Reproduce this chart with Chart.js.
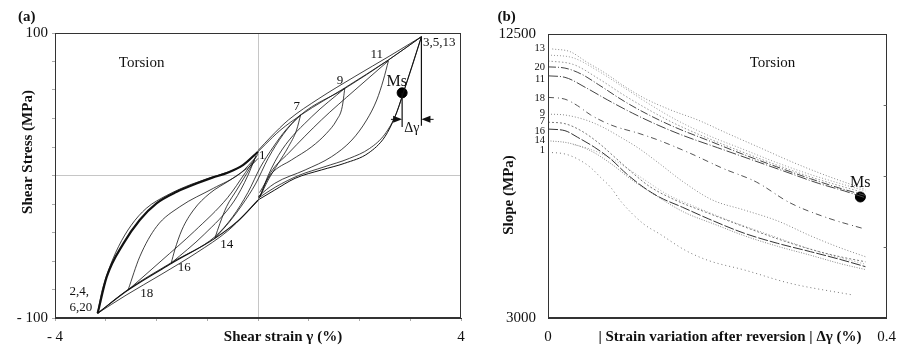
<!DOCTYPE html>
<html><head><meta charset="utf-8">
<script src="https://cdn.jsdelivr.net/npm/chart.js@4.4.1/dist/chart.umd.min.js"></script>
<style>
html,body{margin:0;padding:0;background:#fff;width:903px;height:347px;overflow:hidden}
#ca{position:absolute;left:0;top:0}
#cb{position:absolute;left:470px;top:0}
</style></head><body>
<canvas id="ca" width="480" height="347"></canvas>
<canvas id="cb" width="433" height="347"></canvas>
<script>
// ---------------- Panel (a) data : [shear strain %, shear stress MPa] ----------------
const aXTickValues = [-4, 4];
const aXTickTexts = ['- 4', '4'];
const aYTickValues = [100, -100];
const aYTickTexts = ['100', '- 100'];

const outerDescUpper  = [[3.22,97.4],[2.57,81.1],[1.71,61.5],[0.86,42.8],[0.43,31.5],[0.15,22],[0,16.7]];
const outerDescUpper2 = [[3.22,97.4],[2.6,84],[1.91,69.5],[1.2,54],[0.6,39],[0.25,27],[0,17.5]];
const outerDescLower  = [[0,16.7],[-0.29,7.5],[-0.6,2],[-0.9,-1.5],[-1.2,-5.5],[-1.6,-11.4],[-2.0,-19.5],[-2.33,-31.2],[-2.65,-47.6],[-2.98,-71],[-3.16,-96.7]];
const outerAscLower   = [[-3.16,-96.7],[-2.56,-80.4],[-1.70,-61.6],[-0.85,-44.1],[-0.4,-32],[0,-17.2]];
const outerAscLower2  = [[-3.16,-96.7],[-2.6,-84],[-1.91,-69.5],[-1.2,-54],[-0.6,-39],[-0.25,-27],[0,-17.5]];
const outerAscUpper   = [[0,-17.2],[0.33,-10.2],[0.73,-2.0],[1.25,3.9],[1.71,8.6],[2.17,15.6],[2.50,27.2],[2.70,41.3],[2.86,57.7],[3.03,76.4],[3.22,97.4]];
const rev6to7   = [[-3.16,-96.7],[-2.56,-80],[-1.7,-61],[-0.85,-43],[-0.5,-29],[-0.2,-12],[0.05,6],[0.3,20],[0.55,32],[0.84,42.5]];
const rev7to8   = [[0.84,42.5],[0.76,31.9],[0.60,20.2],[0.40,8.6],[0.20,-3.2],[0.04,-14.9]];
const rev8to9   = [[0.04,-14.9],[0.2,0],[0.47,17.9],[1.06,41.3],[1.71,61.2]];
const rev9to10  = [[1.71,61.2],[1.66,48.3],[1.55,38.9],[1.35,29.6],[1.06,20.2],[0.66,10.9],[0.27,1.5],[0.03,-12]];
const rev10to11 = [[0.02,-16],[0.25,2],[0.60,15.6],[1.25,39],[1.91,60],[2.57,80.5]];
const rev11to12 = [[2.57,80.5],[2.47,67],[2.34,53],[2.14,38.9],[1.85,24.9],[1.45,13.2],[0.93,3.9],[0.33,-5.5],[0,-14.9]];
const rev12to13 = [[0,-16],[0.35,-8],[0.8,0],[1.3,6],[1.8,12],[2.2,19],[2.5,29],[2.72,43],[2.9,62],[3.05,78],[3.22,97.4]];
const rev13to14 = [[3.22,97.4],[2.57,81],[1.71,61],[0.84,42.5],[0.5,29],[0.2,12],[-0.05,-6],[-0.3,-20],[-0.55,-32],[-0.85,-44]];
const rev14to15 = [[-0.85,-44],[-0.75,-33.6],[-0.62,-21.9],[-0.42,-10.2],[-0.22,1.5],[-0.06,10.9]];
const rev15to16 = [[-0.04,14],[-0.2,0],[-0.47,-17.9],[-1.06,-41.3],[-1.71,-61.5]];
const rev16to17 = [[-1.71,-61.5],[-1.64,-52.3],[-1.50,-38.2],[-1.27,-24.2],[-0.95,-12.5],[-0.55,-3.2],[-0.09,8.6],[0,12]];
const rev17to18 = [[0,15],[-0.25,2],[-0.6,-15.6],[-1.25,-39],[-1.91,-60],[-2.56,-80.4]];
const rev18to19 = [[-2.56,-80.4],[-2.33,-57],[-2.0,-35.9],[-1.54,-21.9],[-0.88,-9.0],[-0.35,1.5],[-0.03,13.2]];
const rev19to20 = [[0,16],[-0.35,6],[-0.8,0],[-1.3,-6],[-1.8,-14],[-2.2,-23],[-2.5,-35],[-2.75,-50],[-2.95,-67],[-3.08,-82],[-3.16,-96.7]];
const msPointA = [[2.84,58]];
const msDeltaLine = [[2.84,58],[2.84,34]];
const peakDeltaLine = [[3.22,97.4],[3.22,35]];
const aCycleLabels = ['1','7','9','11','3,5,13','14','16','18','2,4,','6,20'];

// ---------------- Panel (b) data : [|Δγ| %, slope MPa] ----------------
const bXTickValues = [0, 0.4];
const bXTickTexts = ['0', '0.4'];
const bYTickValues = [12500, 3000];
const bYTickTexts = ['12500', '3000'];
const slope13 = [[0.005,12000],[0.026,11910],[0.045,11575],[0.068,11185],[0.091,10737],[0.114,10350],[0.145,9958],[0.177,9623],[0.21,9200],[0.25,8700],[0.29,8200],[0.33,7750],[0.375,7300]];
const slope3  = [[0,11800],[0.03,11700],[0.06,11250],[0.09,10700],[0.12,10150],[0.15,9650],[0.19,9100],[0.23,8650],[0.27,8200],[0.31,7800],[0.345,7500],[0.375,7250]];
const slope5  = [[0,11600],[0.03,11480],[0.06,11000],[0.09,10450],[0.12,9950],[0.15,9500],[0.19,9000],[0.23,8550],[0.27,8120],[0.31,7720],[0.345,7420],[0.375,7180]];
const slope20 = [[0,11400],[0.02,11360],[0.04,11150],[0.06,10800],[0.09,10250],[0.12,9780],[0.15,9380],[0.19,8930],[0.23,8480],[0.27,8060],[0.31,7660],[0.345,7340],[0.375,7100]];
const slope11 = [[0,11100],[0.02,11050],[0.045,10700],[0.07,10300],[0.1,9850],[0.13,9450],[0.16,9100],[0.2,8700],[0.24,8300],[0.28,7900],[0.32,7500],[0.35,7250],[0.375,7020]];
const slope18 = [[0,10380],[0.02,10320],[0.035,10100],[0.05,9800],[0.075,9450],[0.107,9178],[0.13,8954],[0.168,8509],[0.207,8000],[0.246,7550],[0.286,6850],[0.33,6350],[0.375,5970]];
const slope9  = [[0,9820],[0.02,9790],[0.045,9620],[0.065,9380],[0.085,9060],[0.107,8680],[0.13,8200],[0.16,7550],[0.194,6950],[0.232,6610],[0.271,6250],[0.31,5750],[0.345,5350],[0.375,5050]];
const slope7  = [[0,9550],[0.02,9500],[0.04,9250],[0.06,8850],[0.08,8350],[0.1,7850],[0.12,7400],[0.15,6950],[0.19,6500],[0.232,6050],[0.271,5650],[0.31,5300],[0.345,5050],[0.375,4880]];
const slope16 = [[0,9320],[0.02,9266],[0.035,9044],[0.055,8710],[0.074,8319],[0.093,7817],[0.113,7372],[0.132,7038],[0.159,6703],[0.19,6312],[0.232,5833],[0.271,5499],[0.31,5219],[0.345,4960],[0.375,4717]];
const slope14 = [[0,8930],[0.025,8850],[0.05,8600],[0.075,8150],[0.1,7600],[0.13,7050],[0.16,6550],[0.2,6100],[0.232,5750],[0.271,5400],[0.31,5100],[0.345,4820],[0.375,4620]];
const slopeX  = [[0.03,8800],[0.05,8650],[0.08,8250],[0.11,7700],[0.14,7150],[0.18,6650],[0.22,6200],[0.26,5800],[0.3,5400],[0.34,5050],[0.375,4800]];
const slope1  = [[0,8543],[0.02,8486],[0.035,8319],[0.05,8041],[0.062,7706],[0.074,7372],[0.087,6870],[0.113,6145],[0.132,5810],[0.163,5252],[0.19,4918],[0.232,4606],[0.286,4160],[0.36,3770]];
const msPointB = [[0.369,7048]];
const bStartLabels = ['13','20','11','18','9','7','16','14','1'];
const bStartLabelValues = [12022,11373,10995,10349,9846,9568,9233,8954,8597];

// ---------------- helpers ----------------
const FONT = "'Liberation Serif','DejaVu Serif',serif";
Chart.defaults.font.family = FONT;
Chart.defaults.color = '#111';
const toXY = arr => arr.map(([x,y]) => ({x, y}));
function lineDs(arr, opts) {
  return Object.assign({data: toXY(arr), showLine: true, pointRadius: 0, borderColor: '#111',
    borderWidth: 0.8, cubicInterpolationMode: 'monotone', fill: false}, opts || {});
}
function pickLabel(vals, texts) {
  return v => { for (let i = 0; i < vals.length; i++) if (Math.abs(v - vals[i]) < 1e-9) return texts[i]; return ''; };
}
function txt(ctx, s, x, y, font, align) {
  ctx.font = font; ctx.textAlign = align || 'center'; ctx.textBaseline = 'middle'; ctx.fillStyle = '#111';
  ctx.fillText(s, x, y);
}
function vtxt(ctx, s, x, y, font) {
  ctx.save(); ctx.translate(x, y); ctx.rotate(-Math.PI / 2); txt(ctx, s, 0, 0, font); ctx.restore();
}
function frame(ctx, a) {
  ctx.save(); ctx.strokeStyle = '#333'; ctx.lineWidth = 1;
  ctx.strokeRect(Math.round(a.left) + 0.5, Math.round(a.top) + 0.5, Math.round(a.right - a.left) - 1, Math.round(a.bottom - a.top) - 1);
  ctx.restore();
}
function arrow(ctx, x1, y, x2) {
  const d = Math.sign(x2 - x1);
  ctx.beginPath(); ctx.moveTo(x1, y); ctx.lineTo(x2 - d * 6, y); ctx.stroke();
  ctx.beginPath(); ctx.moveTo(x2, y); ctx.lineTo(x2 - d * 9, y - 3.5); ctx.lineTo(x2 - d * 9, y + 3.5); ctx.closePath(); ctx.fill();
}
const common = {
  responsive: false, animation: false, devicePixelRatio: 1,
  plugins: {legend: {display: false}, tooltip: {enabled: false}}
};
const tickFont = {family: FONT, size: 15};

// ---------------- Panel (a) ----------------
const annotA = {
  id: 'annotA',
  afterDatasetsDraw(chart) {
    const {ctx, chartArea: a, scales: {x, y}} = chart;
    frame(ctx, a);
    ctx.save();
    const P = (dx, dy) => [x.getPixelForValue(dx), y.getPixelForValue(dy)];
    const labelPos = [[0.085,13.9],[0.763,48.1],[1.616,66.3],[2.339,84.6],[3.25,93.0],[-0.617,-48.8],[-1.452,-64.7],[-2.193,-82.7],[-3.521,-81.5],[-3.488,-92.5]];
    aCycleLabels.forEach((s, i) => {
      const [px, py] = P(labelPos[i][0], labelPos[i][1]);
      txt(ctx, s, px, py, '13px ' + FONT, s === '3,5,13' ? 'left' : 'center');
    });
    let [px, py] = P(-2.292, 78.7); txt(ctx, 'Torsion', px, py, '15px ' + FONT);
    [px, py] = P(2.733, 65.8); txt(ctx, 'Ms', px, py, '16px ' + FONT);
    [px, py] = P(3.029, 33.3); txt(ctx, 'Δγ', px, py, '14px ' + FONT);
    ctx.strokeStyle = '#111'; ctx.fillStyle = '#111'; ctx.lineWidth = 1;
    const ay = y.getPixelForValue(39.4);
    arrow(ctx, x.getPixelForValue(2.62), ay, x.getPixelForValue(2.84));
    arrow(ctx, x.getPixelForValue(3.46), ay, x.getPixelForValue(3.22));
    txt(ctx, '(a)', 26.7, 16.7, 'bold 15px ' + FONT);
    txt(ctx, 'Shear strain γ (%)', 283, 337, 'bold 15px ' + FONT);
    vtxt(ctx, 'Shear Stress (MPa)', 28, 152, 'bold 15px ' + FONT);
    ctx.restore();
  }
};
new Chart(document.getElementById('ca'), {
  type: 'scatter',
  data: {datasets: [
    lineDs(outerDescUpper), lineDs(outerDescUpper2),
    lineDs(outerDescLower, {borderWidth: 2.2}),
    lineDs(outerAscLower, {borderWidth: 1.1}), lineDs(outerAscLower2),
    lineDs(outerAscUpper, {borderWidth: 1.0}),
    lineDs(rev6to7), lineDs(rev7to8), lineDs(rev8to9), lineDs(rev9to10), lineDs(rev10to11),
    lineDs(rev11to12), lineDs(rev12to13), lineDs(rev13to14), lineDs(rev14to15), lineDs(rev15to16),
    lineDs(rev16to17), lineDs(rev17to18), lineDs(rev18to19), lineDs(rev19to20),
    lineDs(msDeltaLine, {borderWidth: 1.2, cubicInterpolationMode: 'default', tension: 0}),
    lineDs(peakDeltaLine, {borderWidth: 1.2, cubicInterpolationMode: 'default', tension: 0}),
    {data: toXY(msPointA), showLine: false, pointRadius: 5, pointBackgroundColor: '#000', pointBorderColor: '#000'}
  ]},
  options: Object.assign({}, common, {
    layout: {padding: {left: 0, top: 33, right: 19, bottom: 0}},
    scales: {
      x: {type: 'linear', min: -4, max: 4, afterFit: s => { s.height = 29; },
        ticks: {stepSize: 1, autoSkip: false, maxRotation: 0, padding: 7, font: tickFont, color: '#111', callback: pickLabel(aXTickValues, aXTickTexts)},
        grid: {color: c => (c.tick && c.tick.value === 0) ? '#c6c6c6' : 'rgba(0,0,0,0)', tickLength: 3, tickColor: '#aaa'},
        border: {display: true, color: '#333'}},
      y: {type: 'linear', min: -100, max: 100, afterFit: s => { s.width = 55; },
        ticks: {stepSize: 20, autoSkip: false, padding: 4, font: tickFont, color: '#111', callback: pickLabel(aYTickValues, aYTickTexts)},
        grid: {color: c => (c.tick && c.tick.value === 0) ? '#c6c6c6' : 'rgba(0,0,0,0)', tickLength: 3, tickColor: '#aaa'},
        border: {display: true, color: '#333'}}
    }
  }),
  plugins: [annotA]
});

// ---------------- Panel (b) ----------------
const annotB = {
  id: 'annotB',
  afterDatasetsDraw(chart) {
    const {ctx, chartArea: a, scales: {x, y}} = chart;
    frame(ctx, a);
    ctx.save();
    ctx.strokeStyle = '#666'; ctx.lineWidth = 1;
    y.ticks.forEach(t => {
      if (t.value > 3000 && t.value < 12500) {
        const py = Math.round(y.getPixelForValue(t.value)) + 0.5;
        ctx.beginPath(); ctx.moveTo(a.right - 3, py); ctx.lineTo(a.right, py); ctx.stroke();
      }
    });
    bStartLabels.forEach((s, i) => txt(ctx, s, a.left - 3, y.getPixelForValue(bStartLabelValues[i]), '10.5px ' + FONT, 'right'));
    txt(ctx, 'Torsion', x.getPixelForValue(0.2652), y.getPixelForValue(11520), '15px ' + FONT);
    txt(ctx, 'Ms', x.getPixelForValue(0.3687), y.getPixelForValue(7526), '16px ' + FONT);
    txt(ctx, '(b)', 36.7, 16.7, 'bold 15px ' + FONT);
    txt(ctx, '| Strain variation after reversion | Δγ (%)', 260, 337, 'bold 15px ' + FONT);
    vtxt(ctx, 'Slope (MPa)', 39, 195, 'bold 15px ' + FONT);
    ctx.restore();
  }
};
new Chart(document.getElementById('cb'), {
  type: 'scatter',
  data: {datasets: [
    lineDs(slope13, {borderDash: [1, 2], borderColor: '#888', borderWidth: 1}),
    lineDs(slope3,  {borderDash: [1, 2], borderColor: '#999', borderWidth: 1}),
    lineDs(slope5,  {borderDash: [1.5, 2], borderColor: '#999', borderWidth: 1}),
    lineDs(slope20, {borderDash: [8, 2, 1, 2], borderColor: '#444', borderWidth: 1}),
    lineDs(slope11, {borderDash: [10, 2, 1, 2], borderColor: '#444', borderWidth: 1}),
    lineDs(slope18, {borderDash: [6, 4, 1, 3], borderColor: '#555', borderWidth: 1}),
    lineDs(slope9,  {borderDash: [1, 2], borderColor: '#888', borderWidth: 1}),
    lineDs(slope7,  {borderDash: [2, 2], borderColor: '#777', borderWidth: 1}),
    lineDs(slope16, {borderDash: [10, 2], borderColor: '#333', borderWidth: 1}),
    lineDs(slope14, {borderDash: [1, 1.5], borderColor: '#888', borderWidth: 1}),
    lineDs(slopeX,  {borderDash: [1, 2], borderColor: '#aaa', borderWidth: 1}),
    lineDs(slope1,  {borderDash: [1, 3], borderColor: '#777', borderWidth: 1}),
    {data: toXY(msPointB), showLine: false, pointRadius: 5, pointBackgroundColor: '#000', pointBorderColor: '#000'}
  ]},
  options: Object.assign({}, common, {
    layout: {padding: {left: 0, top: 34, right: 10, bottom: 0}},
    scales: {
      x: {type: 'linear', min: 0, max: 0.4, afterFit: s => { s.height = 29; },
        ticks: {stepSize: 0.1, autoSkip: false, maxRotation: 0, padding: 7, font: tickFont, color: '#111', callback: pickLabel(bXTickValues, bXTickTexts)},
        grid: {color: 'rgba(0,0,0,0)', tickLength: 3, tickColor: 'rgba(0,0,0,0)'},
        border: {display: true, color: '#333'}},
      y: {type: 'linear', min: 3000, max: 12500, afterFit: s => { s.width = 78; },
        ticks: {stepSize: 2375, autoSkip: false, padding: 8, font: tickFont, color: '#111', callback: pickLabel(bYTickValues, bYTickTexts)},
        grid: {color: 'rgba(0,0,0,0)', tickLength: 4, tickColor: 'rgba(0,0,0,0)'},
        border: {display: true, color: '#333'}}
    }
  }),
  plugins: [annotB]
});
</script>
</body></html>
